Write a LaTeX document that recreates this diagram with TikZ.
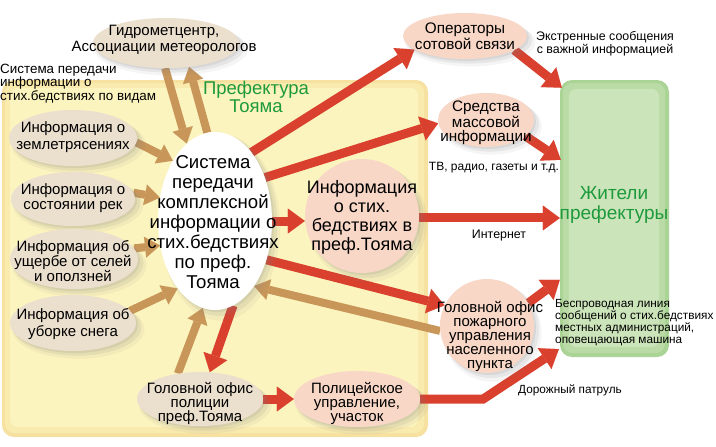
\documentclass[tikz,border=0pt]{standalone}
\usepackage{fontspec}
\setmainfont{Liberation Sans}
\usetikzlibrary{arrows.meta,shapes.geometric,shadows,calc}
\definecolor{redA}{HTML}{D9402D}
\definecolor{brownA}{HTML}{C89659}
\definecolor{beige}{HTML}{EBDFCE}
\definecolor{pinkA}{HTML}{F8D7C7}
\definecolor{greenT}{HTML}{1D9A3C}
\definecolor{yelE}{HTML}{F6E1A0}
\definecolor{yelM}{HTML}{F9EAAE}
\definecolor{yelC}{HTML}{FCF4BE}
\definecolor{grnE}{HTML}{AAD396}
\definecolor{grnM}{HTML}{BADBA5}
\definecolor{grnC}{HTML}{CCE4BA}
\pgfdeclarelayer{back}
\pgfdeclarelayer{arrl}
\pgfsetlayers{back,arrl,main}
\begin{document}
\begin{tikzpicture}[x=1pt,y=-1pt,
  region/.style={rectangle,rounded corners=12pt,inner sep=0pt,draw=none},
  softshadow/.style={
    drop shadow={shadow xshift=2pt,shadow yshift=-2pt,opacity=.14},
    drop shadow={shadow xshift=4pt,shadow yshift=-4pt,shadow scale=1.02,opacity=.12},
    drop shadow={shadow xshift=5pt,shadow yshift=-6pt,shadow scale=1.05,opacity=.08}},
  bubble/.style={ellipse,inner sep=0pt,draw=none,softshadow},
  cbubble/.style={circle,inner sep=0pt,draw=none,softshadow},
  t18/.style={inner sep=0pt,align=center,font=\fontsize{18.6}{20}\selectfont},
  t15/.style={inner sep=0pt,align=center,font=\fontsize{15}{15.5}\selectfont},
  tf/.style={inner sep=0pt,align=center,font=\fontsize{15}{14}\selectfont},
  tsm/.style={inner sep=0pt,align=center,font=\fontsize{12.4}{13}\selectfont},
  gtext/.style={inner sep=0pt,align=center,text=greenT,font=\fontsize{19}{20}\selectfont},
  redarr/.style={draw=redA,line width=9pt,
    -{Triangle[length=17pt,width=25pt,line width=0.01pt]}},
  brarr/.style={draw=brownA,line width=8pt,
    -{Triangle[length=15pt,width=21pt,line width=0.01pt]}}]
\useasboundingbox (0,0) rectangle (716,447);
\begin{pgfonlayer}{back}
  \fill[white] (0,0) rectangle (716,447);
  \node[region,fill=yelE,minimum width=426pt,minimum height=357pt] (pref) at (215,258.5) {};
  \fill[yelM,rounded corners=10pt] ($(pref.north west)+(3,3)$) rectangle ($(pref.south east)+(-4,-4)$);
  \fill[yelC,rounded corners=8pt] ($(pref.north west)+(8,8)$) rectangle ($(pref.south east)+(-10,-10)$);
  \node[region,fill=grnE,minimum width=109pt,minimum height=277pt] (res) at (614.5,218.5) {};
  \fill[grnM,rounded corners=10pt] ($(res.north west)+(3,3)$) rectangle ($(res.south east)+(-4,-4)$);
  \fill[grnC,rounded corners=8pt] ($(res.north west)+(9,9)$) rectangle ($(res.south east)+(-10,-10)$);
\end{pgfonlayer}

% bubbles
\node[bubble,fill=beige,minimum width=146pt,minimum height=50pt] (gid) at (166,43) {};
\node[bubble,fill=beige,minimum width=128pt,minimum height=56pt] (eq) at (73,138) {};
\node[bubble,fill=beige,minimum width=124pt,minimum height=54pt] (riv) at (73,199) {};
\node[bubble,fill=beige,minimum width=128pt,minimum height=60pt] (dmg) at (74,259) {};
\node[bubble,fill=beige,minimum width=126pt,minimum height=56pt] (snow) at (73,323) {};
\node[bubble,fill=white,minimum width=114pt,minimum height=178pt] (sys) at (215,221) {};
\node[cbubble,fill=pinkA,minimum size=114pt] (info) at (362,216) {};
\node[bubble,fill=pinkA,minimum width=124pt,minimum height=46pt] (ops) at (465,36) {};
\node[bubble,fill=pinkA,minimum width=96pt,minimum height=54pt] (mass) at (486,120) {};
\node[cbubble,fill=pinkA,minimum size=94pt] (fire) at (487,326) {};
\node[bubble,fill=beige,minimum width=126pt,minimum height=54pt] (hq) at (200,399) {};
\node[bubble,fill=pinkA,minimum width=126pt,minimum height=56pt] (pol) at (357,399) {};

% connectors
\begin{pgfonlayer}{arrl}
  \draw[brarr] (gid.268) -- (sys.110);
  \draw[brarr] (sys.95) -- (gid.314);
  \draw[brarr] (eq.356) -- (sys.125);
  \draw[brarr] (riv.6) -- (sys.157);
  \draw[brarr] (dmg.10) -- (sys.204);
  \draw[brarr] (snow.12) -- (sys.241);
  \draw[brarr] (fire.186) -- (sys.301);
  \draw[brarr] (hq.131) -- (sys.262);
  \draw[redarr] (sys.62) -- (ops.195);
  \draw[redarr] (sys.41) -- (mass.184);
  \draw[redarr] (sys.east) -- (sys.east -| info.west);
  \draw[redarr] (info.358) -- (info.358 -| res.west);
  \draw[redarr] (sys.323) -- (fire.154);
  \draw[redarr] (fire.29) -- ($(res.north west)+(0,200)$);
  \draw[redarr] (ops.344) -- ($(res.north west)+(2,8)$);
  \draw[redarr] (mass.338) -- ($(res.north west)+(1,80)$);
  \draw[redarr] (sys.282) -- (hq.70);
  \draw[redarr] (hq.east) -- (pol.west);
  \draw[redarr] (pol.east) -- ++(63,0) -- ($(res.south west)+(-1,-8)$);
\end{pgfonlayer}

% texts
\node[t15] (gidT) at (164,40) {Гидрометцентр,\\Ассоциации метеорологов};
\node[t15,font=\fontsize{15}{17}\selectfont] (eqT) at (73,137) {Информация о\\землетрясениях};
\node[t15] (rivT) at (73,198) {Информация о\\состоянии рек};
\node[t15,font=\fontsize{15}{13.5}\selectfont] (dmgT) at (73,261) {Информация об\\ущербе от селей\\и оползней};
\node[t15,font=\fontsize{15}{16.5}\selectfont] (snowT) at (73,324) {Информация об\\уборке снега};
\node[t18] (sysT) at (213,222) {Система\\передачи\\комплексной\\информации о\\стих.бедствиях\\по преф.\\Тояма};
\node[t18,font=\fontsize{18}{19}\selectfont] (infoT) at (362,217) {Информация\\о стих.\\бедствиях в\\преф.Тояма};
\node[t15,font=\fontsize{15.3}{14.5}\selectfont] (opsT) at (465,36) {Операторы\\сотовой связи};
\node[t15,font=\fontsize{15.3}{14.5}\selectfont] (massT) at (486,123) {Средства\\массовой\\информации};
\node[tf] (fireT) at (490,336) {Головной офис\\пожарного\\управления\\населенного\\пункта};
\node[tf] (hqT) at (200,403) {Головной офис\\полиции\\преф.Тояма};
\node[tf] (polT) at (357,403) {Полицейское\\управление,\\участок};
\node[inner sep=0pt,align=left,anchor=west,font=\fontsize{13.4}{11.7}\selectfont] (sideT) at (0,83.5) {Система передачи\\информации о\\стих.бедствиях по видам};
\node[gtext,font=\fontsize{18.5}{18.5}\selectfont] (prefT) at (256,97) {Префектура\\Тояма};
\node[gtext] (resT) at (614,205) {Жители\\префектуры};
\node[tsm] (emT) at (605,44) {Экстренные сообщения\\с важной информацией};
\node[tsm,font=\fontsize{12}{13}\selectfont] (tvT) at (494,168) {ТВ, радио, газеты и т.д.};
\node[tsm] (netT) at (499,236) {Интернет};
\node[inner sep=0pt,align=left,anchor=west,font=\fontsize{11.8}{11.8}\selectfont] (wlT) at (555,322.5) {Беспроводная линия\\сообщений о стих.бедствиях\\местных администраций,\\оповещающая машина};
\node[tsm,font=\fontsize{11.8}{12}\selectfont] (roadT) at (570,390) {Дорожный патруль};
\end{tikzpicture}
\end{document}
